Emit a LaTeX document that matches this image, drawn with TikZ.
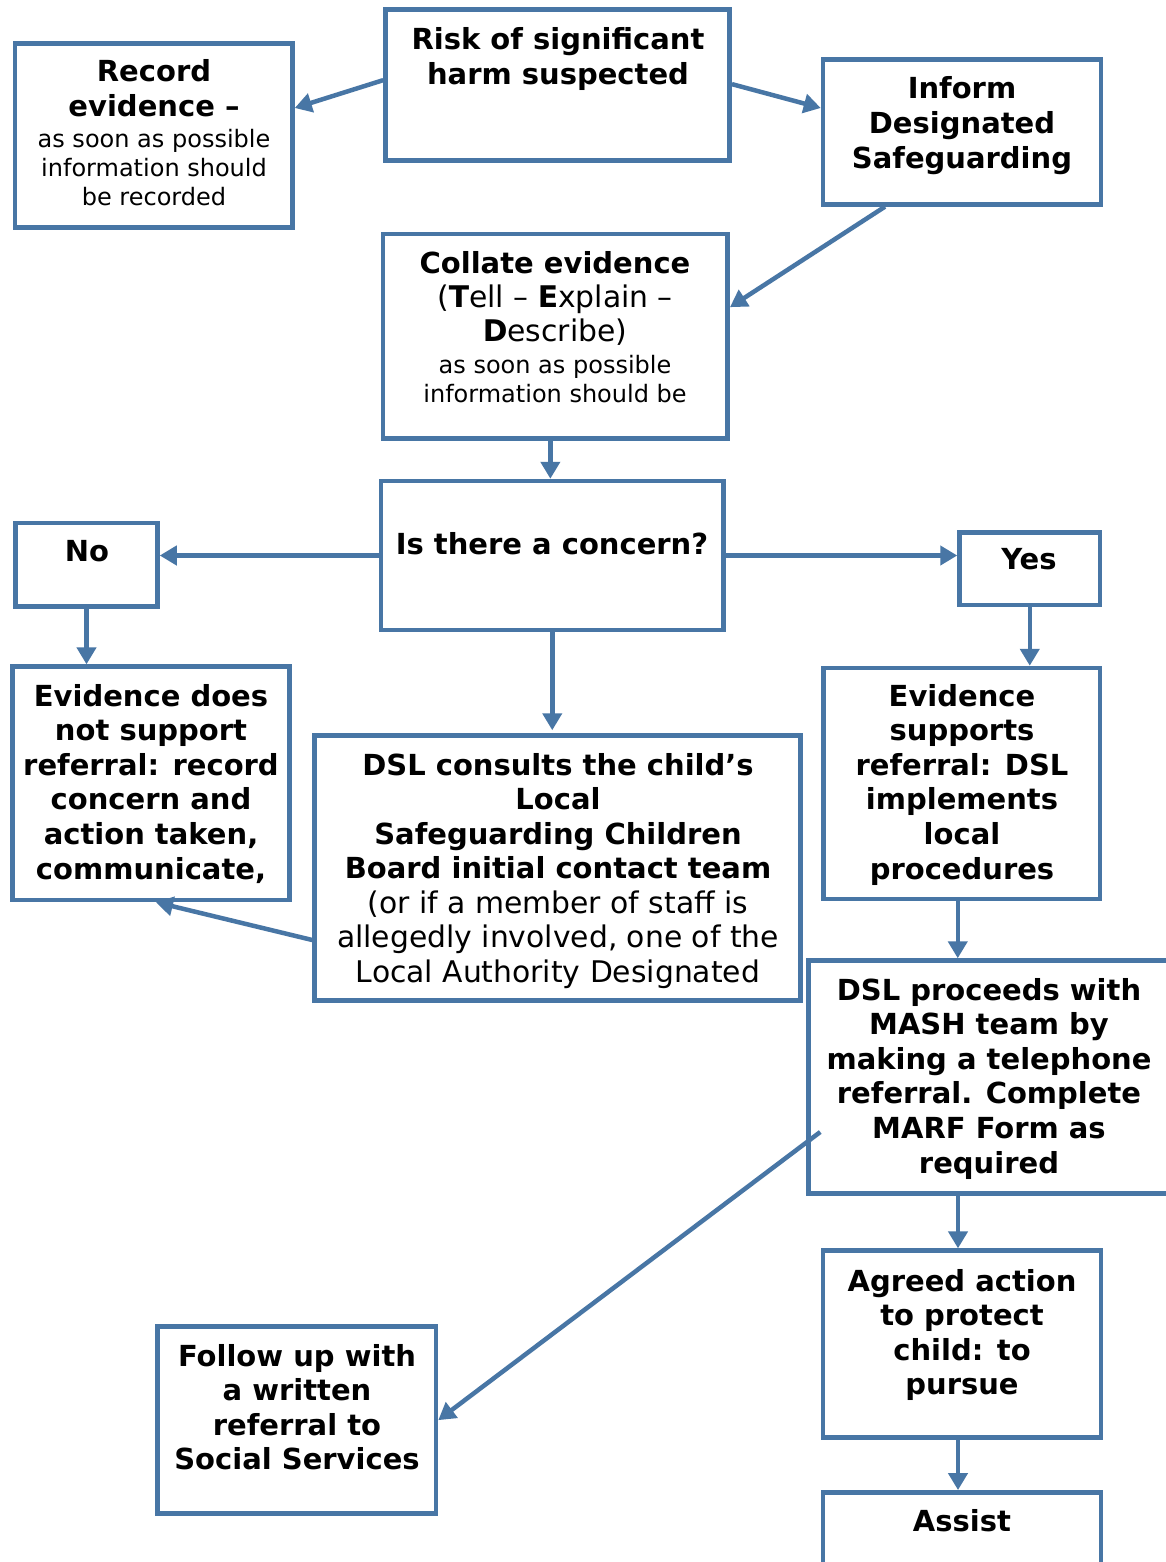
\documentclass[tikz,border=0pt]{standalone}
\usepackage{fontspec}
\setmainfont{DejaVu Sans}
\usetikzlibrary{arrows.meta,calc}
\definecolor{bl}{RGB}{72,118,165}
\newcommand\fbig{\fontsize{29}{34.6}\selectfont}
\newcommand\freg{\fontsize{29.8}{34.6}\selectfont}
\newcommand\fsm{\fontsize{24}{29}\selectfont}
\newcommand\mkbox[5]{\node[box,minimum width={#4-#2},minimum height={#5-#3}] (#1) at ({(#2+#4)/2},{(#3+#5)/2}) {};}
\begin{document}
\begin{tikzpicture}[x=1pt,y=-1pt,
 box/.style={draw=bl,line width=4.5pt,rectangle,inner sep=0pt},
 tb/.style={font=\fbig\bfseries,align=center,anchor=base,inner sep=0pt},
 tr/.style={font=\freg,align=center,anchor=base,inner sep=0pt},
 ts/.style={font=\fsm,align=center,anchor=base,inner sep=0pt},
 arr/.style={draw=bl,line width=4.5pt,-{Triangle[length=17pt,width=19pt]}}]
\useasboundingbox (0,0) rectangle (1166,1562);
\clip (0,0) rectangle (1166,1562);
\fill[white] (0,0) rectangle (1166,1562);
% boxes
\mkbox{rec}{15}{43.5}{292.5}{227.5}
\mkbox{risk}{385.5}{9.6}{729.7}{160.7}
\mkbox{inf}{823}{59.6}{1101}{204.4}
\mkbox{col}{383}{234}{727.7}{438.4}
\mkbox{con}{381}{481}{723.5}{630}
\mkbox{no}{15.5}{523}{157.5}{606.7}
\mkbox{yes}{959.5}{532.5}{1100}{605}
\mkbox{evn}{12.3}{666.6}{289.7}{900}
\mkbox{dslc}{314.5}{735.5}{800.5}{1000.5}
\mkbox{evy}{823.5}{668}{1100}{899}
\mkbox{dslp}{808.5}{960.5}{1180}{1193.5}
\mkbox{agr}{823}{1250.6}{1101}{1437.7}
\mkbox{asst}{823}{1492.3}{1101}{1580}
\mkbox{fol}{157.6}{1326.6}{436}{1513.7}
% texts (anchored at the baseline of the last line)
\node[tb] (rec-t) at (154,{82+34.6}) {Record\\evidence –};
\node[ts] (rec-s) at (154,{148+2*29}) {as soon as possible\\information should\\be recorded};
\node[tb] (risk-t) at (558,{50+34.6}) {Risk of significant\\harm suspected};
\node[tb] (inf-t) at (962,{99+2*34.6}) {Inform\\Designated\\Safeguarding};
\node[tb] (col-t) at (555,273) {Collate evidence};
\node[tr] (col-r) at (555,{307+34.6}) {(\textbf{T}ell – \textbf{E}xplain –\\\textbf{D}escribe)};
\node[ts] (col-s) at (555,{373+29}) {as soon as possible\\information should be};
\node[tb] (con-t) at (552,554) {Is there a concern?};
\node[tb] (no-t) at (87,561) {No};
\node[tb] (yes-t) at (1029,569) {Yes};
\node[tb] (evn-t) at (151,{706+5*34.6}) {Evidence does\\not support\\referral: record\\concern and\\action taken,\\communicate,};
\node[tb] (dslc-t) at (558,{775+3*34.6}) {DSL consults the child’s\\Local\\Safeguarding Children\\Board initial contact team};
\node[tr] (dslc-r) at (558,{913+2*34.6}) {(or if a member of staff is\\allegedly involved, one of the\\Local Authority Designated};
\node[tb] (evy-t) at (962,{706+5*34.6}) {Evidence\\supports\\referral: DSL\\implements\\local\\procedures};
\node[tb] (dslp-t) at (989,{1000+5*34.6}) {DSL proceeds with\\MASH team by\\making a telephone\\referral. Complete\\MARF Form as\\required};
\node[tb] (agr-t) at (962,{1291+3*34.6}) {Agreed action\\to protect\\child: to\\pursue};
\node[tb] (asst-t) at (962,1531) {Assist};
\node[tb] (fol-t) at (297,{1366+3*34.6}) {Follow up with\\a written\\referral to\\Social Services};
% arrows
\draw[arr] ([yshift=5pt]risk.west) -- ([yshift=27.5pt]rec.east);
\draw[arr] ([yshift=1pt]risk.east) -- ([yshift=24pt]inf.west);
\draw[arr] ([xshift=-77pt]inf.south) -- ([yshift=29pt]col.east);
\draw[arr] ([xshift=-5pt]col.south) -- ([xshift=-5pt]col.south |- con.north);
\draw[arr] (con.west) -- (con.west -| no.east);
\draw[arr] (con.east) -- (con.east -| yes.west);
\draw[arr] (no.south) -- (no.south |- evn.north);
\draw[arr,shorten >=3pt] (con.south) -- (con.south |- dslc.north);
\draw[arr] ([yshift=-72pt]dslc.west) -- ([xshift=5pt]evn.south);
\draw[arr] (yes.south) -- (yes.south |- evy.north);
\draw[arr] ([xshift=-4pt]evy.south) -- ([xshift=-4pt]evy.south |- dslp.north);
\draw[arr] ([xshift=14pt,yshift=-55pt]dslp.west) -- (fol.east);
\draw[arr] ([xshift=-4pt]agr.north |- dslp.south) -- ([xshift=-4pt]agr.north);
\draw[arr] ([xshift=-4pt]agr.south) -- ([xshift=-4pt]asst.north);
\end{tikzpicture}
\end{document}
